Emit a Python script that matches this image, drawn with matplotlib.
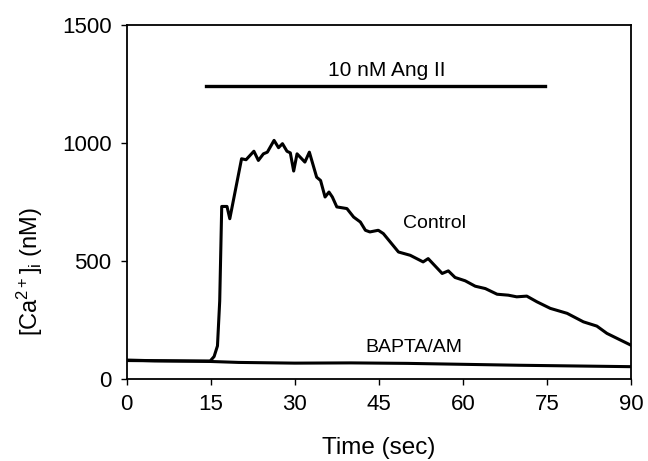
import matplotlib
matplotlib.use("Agg")
import matplotlib.pyplot as plt

plt.rcParams['font.family'] = ['Liberation Sans', 'DejaVu Sans']
plt.rcParams['mathtext.fontset'] = 'custom'
plt.rcParams['mathtext.rm'] = 'Liberation Sans'
plt.rcParams['mathtext.it'] = 'Liberation Sans:italic'

# Control trace
control_time = [0, 5, 10, 14.9, 15.6, 16.2, 16.6, 16.96, 17.9, 18.4, 20.5, 21.3, 22.7, 23.5,
                24.4, 25.1, 26.3, 27.1, 27.8, 28.6, 29.2, 29.8, 30.4, 31.8, 32.6, 33.9,
                34.6, 35.4, 36.1, 36.7, 37.5, 39.3, 40.5, 41.7, 42.6, 43.4, 44.9, 45.8,
                48.5, 50.6, 52.9, 53.8, 56.3, 57.4, 58.6, 60.4, 62.2, 64.0, 66.1, 68.1,
                69.6, 71.4, 73.2, 75.6, 78.6, 81.5, 83.9, 85.7, 89.9]
control_ca = [80, 77, 76, 76, 95, 140, 330, 731, 731, 679, 933, 929, 965, 926,
              954, 961, 1011, 980, 997, 965, 958, 881, 954, 919, 961, 855,
              841, 771, 792, 771, 729, 722, 686, 665, 630, 623, 630, 616,
              538, 524, 496, 510, 447, 458, 430, 416, 393, 383, 359, 355,
              348, 351, 327, 299, 278, 242, 224, 193, 144]

# BAPTA/AM trace
bapta_time = [0, 5, 10, 15, 20, 30, 40, 50, 60, 70, 80, 90]
bapta_ca = [78, 77, 76, 74, 70, 67, 68, 66, 62, 58, 55, 52]

# Ang II application bar
angii_start, angii_end, angii_level = 14.1, 74.6, 1243

x_ticks = [0, 15, 30, 45, 60, 75, 90]
y_ticks = [0, 500, 1000, 1500]

fig = plt.figure(figsize=(6.48, 4.61), dpi=100)
ax = fig.add_axes([0.1955, 0.178, 0.7783, 0.7678])

ax.plot(control_time, control_ca, color='black', lw=2.2, solid_joinstyle='round')
ax.plot(bapta_time, bapta_ca, color='black', lw=2.2)
ax.plot([angii_start, angii_end], [angii_level, angii_level], color='black', lw=2.4)

ax.text(46.4, 1306, '10 nM Ang II', ha='center', va='center', fontsize=15)
ax.text(54.9, 660, 'Control', ha='center', va='center', fontsize=14)
ax.text(51.2, 133, 'BAPTA/AM', ha='center', va='center', fontsize=14)

ax.set_xlim(0, 90)
ax.set_ylim(0, 1500)
ax.set_xticks(x_ticks)
ax.set_yticks(y_ticks)
ax.tick_params(direction='out', length=4, width=1.0, labelsize=16, pad=7)

for s in ax.spines.values():
    s.set_linewidth(1.3)

ax.set_xlabel('Time (sec)', fontsize=17.5, labelpad=16)
fig.text(0.046, 1 - 272 / 461, r'[Ca$^{2+}$]$_\mathrm{i}$ (nM)', rotation=90,
         ha='center', va='center', fontsize=17)

fig.savefig('out.png', dpi=100, facecolor='white')
